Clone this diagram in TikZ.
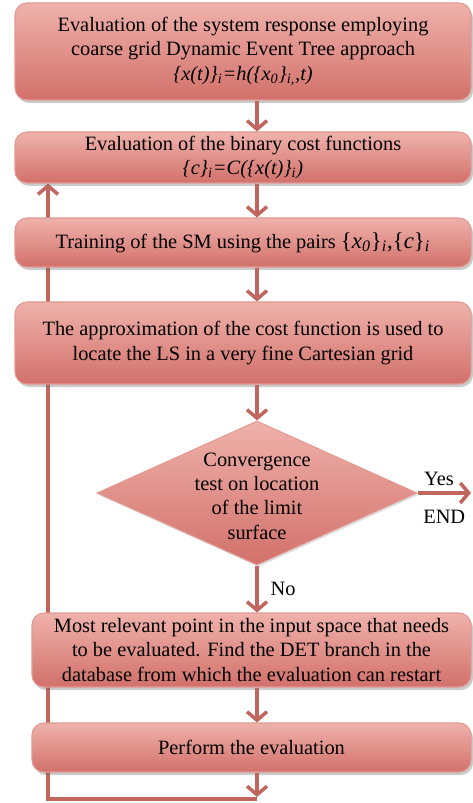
\documentclass[tikz,border=0pt]{standalone}
\usepackage{fontspec}
\setmainfont{Liberation Serif}
\usetikzlibrary{shapes.geometric,arrows.meta,shadows,backgrounds}
\definecolor{boxtop}{HTML}{EFB2AB}
\definecolor{boxbot}{HTML}{D2706A}
\definecolor{boxedge}{HTML}{E09A92}
\definecolor{arrowred}{HTML}{C0665E}
\begin{document}
\begin{tikzpicture}[
  font=\fontsize{11.6}{13.9}\selectfont,
  stepbox/.style={draw=boxedge, line width=0.6pt, rounded corners=0.24cm,
    top color=boxtop, bottom color=boxbot, align=center, inner sep=0.05cm,
    drop shadow={shadow xshift=0.04cm, shadow yshift=-0.06cm, opacity=0.35, fill=black!60}},
  decision/.style={diamond, draw=boxedge, line width=0.6pt, inner sep=0pt,
    top color=boxtop, bottom color=boxbot, minimum width=6.4cm, minimum height=2.88cm,
    drop shadow={shadow xshift=0.03cm, shadow yshift=-0.04cm, opacity=0.2, fill=black!60}},
  arr/.style={draw=arrowred, line width=2pt, -{Straight Barb[length=0.17cm,width=0.4cm]}}
]
\useasboundingbox (0,0) rectangle (9.44,-16.06);
\node[stepbox, minimum width=9.12cm, minimum height=1.94cm] (evalDET) at (4.86,-1.03)
  {Evaluation of the system response employing\\coarse grid Dynamic Event Tree approach\\
   \textit{\{x(t)\}\textsubscript{i}=h(\{x\textsubscript{0}\}\textsubscript{i,},t)}};
\node[stepbox, minimum width=9.12cm, minimum height=1.02cm] (cost) at (4.86,-3.15)
  {Evaluation of the binary cost functions\\
   \textit{\{c\}\textsubscript{i}=C(\{x(t)\}\textsubscript{i})}};
\node[stepbox, minimum width=9.12cm, minimum height=0.98cm] (train) at (4.86,-4.85)
  {Training of the SM using the pairs {\fontsize{13}{14}\selectfont\{\textit{x\textsubscript{0}}\}\textsubscript{\textit{i}},\{\textit{c}\}\textsubscript{\textit{i}}}};
\node[stepbox, minimum width=9.12cm, minimum height=1.64cm] (approx) at (4.86,-6.86)
  {The approximation of the cost function is used to\\locate the LS in a very fine Cartesian grid};
\node[decision] (conv) at (5.14,-9.86) {};
\node[align=center] (convtext) at (5.14,-9.92) {Convergence\\test on location\\of the limit\\surface};
\node[stepbox, minimum width=8.78cm, minimum height=1.48cm] (relevant) at (5.03,-13.0)
  {Most relevant point in the input space that needs\\to be evaluated. Find the DET branch in the\\
   database from which the evaluation can restart};
\node[stepbox, minimum width=8.78cm, minimum height=0.98cm] (perform) at (5.03,-14.95)
  {Perform the evaluation};
\coordinate (finish) at (9.42,-9.86);
\coordinate (loopend) at (5.14,-15.94);
\coordinate (loopbase) at (5.14,-15.98);
\coordinate (loopcorner) at (0.96,-15.98);
\draw[arr] (evalDET.south -| conv) -- (cost.north -| conv);
\draw[arr] (cost.south -| conv) -- (train.north -| conv);
\draw[arr] (train.south -| conv) -- (approx.north -| conv);
\draw[arr] (approx.south -| conv) -- (conv.north);
\draw[arr] (conv.east) -- node[above, pos=0.4]{Yes} node[below=0.2cm, pos=0.5]{END} (finish);
\draw[arr] (conv.south) -- node[right=0.12cm]{No} (relevant.north -| conv);
\draw[arr] (relevant.south -| conv) -- (perform.north -| conv);
\draw[arr] (perform.south -| conv) -- (loopend);
\begin{pgfonlayer}{background}
\draw[arr] (loopbase) -- (loopcorner) -- (loopcorner |- cost.south);
\end{pgfonlayer}
\end{tikzpicture}
\end{document}
